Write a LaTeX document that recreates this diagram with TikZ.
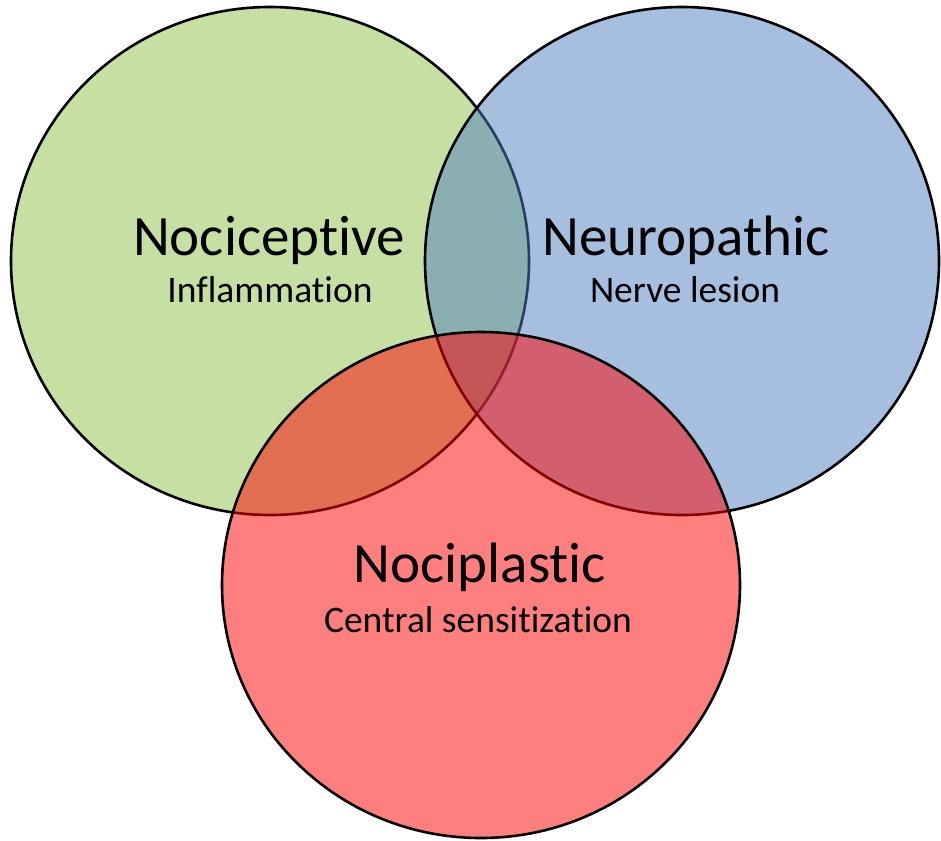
\documentclass[tikz,border=0pt]{standalone}
\usepackage{fontspec}
\setmainfont{Carlito}[Ligatures={NoCommon}]
\definecolor{gbase}{RGB}{141,193,73}
\definecolor{bbase}{RGB}{79,127,191}
\definecolor{rbase}{RGB}{255,0,0}
\tikzset{
  venn/.style={draw=black, line width=2.6pt, fill opacity=0.5, draw opacity=1},
  title/.style={anchor=base, inner sep=0pt, font=\fontsize{57}{62}\selectfont},
  sub/.style={anchor=base, inner sep=0pt, font=\fontsize{37.5}{42}\selectfont}
}
\begin{document}
\begin{tikzpicture}[x=1pt,y=-1pt]
\useasboundingbox (0,0) rectangle (941,840);
\draw[venn, fill=gbase] (270,261) ellipse [x radius=259, y radius=254];
\draw[venn, fill=bbase] (682,261) ellipse [x radius=257, y radius=254];
\draw[venn, fill=rbase] (481,585) ellipse [x radius=259, y radius=253];
\node[title] (noci) at (269,255) {Nociceptive};
\node[sub] (infl) at (270,302) {Inflammation};
\node[title] (neuro) at (686,255) {Neuropathic};
\node[sub] (nerve) at (685,302) {Nerve lesion};
\node[title] (plast) at (480,582) {Nociplastic};
\node[sub] (cent) at (478,632) {Central sensitization};
\end{tikzpicture}
\end{document}
